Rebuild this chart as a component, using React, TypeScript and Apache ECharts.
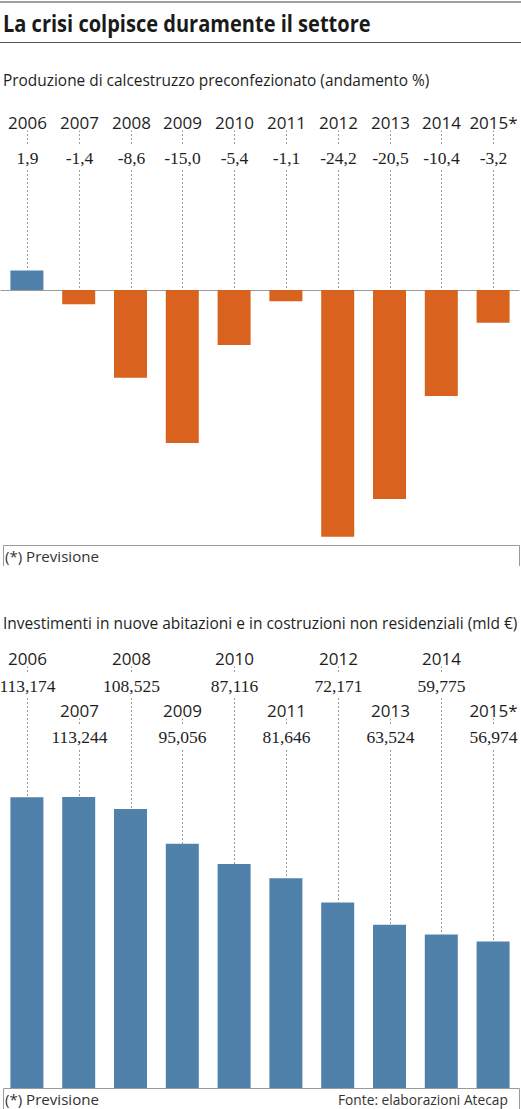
import React, { useEffect, useRef } from "react";
import * as echarts from "echarts";

const YEARS = ["2006", "2007", "2008", "2009", "2010", "2011", "2012", "2013", "2014", "2015*"];
const PRODUCTION = [1.9, -1.4, -8.6, -15.0, -5.4, -1.1, -24.2, -20.5, -10.4, -3.2];
const INVESTMENTS = [113.174, 113.244, 108.525, 95.056, 87.116, 81.646, 72.171, 63.524, 59.775, 56.974];

const TITLE = "La crisi colpisce duramente il settore";
const SUB1 = "Produzione di calcestruzzo preconfezionato (andamento %)";
const SUB2 = "Investimenti in nuove abitazioni e in costruzioni non residenziali (mld €)";
const NOTE = "(*) Previsione";
const SOURCE = "Fonte: elaborazioni Atecap";

const BLUE = "#5081ab";
const ORANGE = "#d9621f";
const GREY = "#9a9a9a";
const TEXT = "#1e1e1e";
const SANS = "'Open Sans', 'Noto Sans', sans-serif";
const SERIF = "'Liberation Serif', 'DejaVu Serif', serif";

const fmt = (v: number, d: number) => v.toFixed(d).replace(".", ",");

function fitScale(text: string, font: string, target: number): number {
  const c = document.createElement("canvas");
  const ctx = c.getContext("2d");
  if (!ctx) return 1;
  ctx.font = font;
  const w = ctx.measureText(text).width;
  return w > 0 ? target / w : 1;
}

export default function App() {
  const ref = useRef<HTMLDivElement>(null);

  useEffect(() => {
    if (!ref.current) return;
    const chart = echarts.init(ref.current, undefined, { renderer: "svg" });

    const titleScale = fitScale(TITLE, `bold 24px 'Open Sans'`, 368);
    const sub1Scale = fitScale(SUB1, `17px 'Open Sans'`, 427);
    const sub2Scale = fitScale(SUB2, `17px 'Open Sans'`, 515);
    const noteScale = fitScale(NOTE, `14px 'Open Sans'`, 94);
    const srcScale = fitScale(SOURCE, `14px 'Open Sans'`, 170);

    const dashLine = (x: number, y1: number, y2: number) => ({
      type: "line",
      shape: { x1: x, y1, x2: x, y2 },
      style: { stroke: GREY, lineWidth: 1, lineDash: [2, 2] },
    });

    const yearText = (x: number, y: number, t: string) => ({
      type: "text",
      x,
      y,
      style: {
        text: t,
        fill: TEXT,
        fontSize: 17,
        fontFamily: SANS,
        align: "center",
        verticalAlign: "middle",
        backgroundColor: "#fff",
        padding: [0, 2],
      },
    });

    const valText = (x: number, y: number, t: string) => ({
      type: "text",
      x,
      y,
      style: {
        text: t,
        fill: TEXT,
        fontSize: 17.5,
        fontFamily: SERIF,
        align: "center",
        verticalAlign: "middle",
        backgroundColor: "#fff",
        padding: [3, 2],
      },
    });

    const option: any = {
      animation: false,
      backgroundColor: "#fff",
      grid: [
        { left: 1, width: 518, top: 269.6, height: 275.4 },
        { left: 1, width: 518, top: 779.6, height: 308.4 },
      ],
      xAxis: [
        {
          type: "category",
          gridIndex: 0,
          data: YEARS,
          axisLine: { show: true, onZero: true, lineStyle: { color: GREY, width: 1 } },
          axisTick: { show: false },
          axisLabel: { show: false },
          splitLine: { show: false },
        },
        {
          type: "category",
          gridIndex: 1,
          data: YEARS,
          axisLine: { show: false },
          axisTick: { show: false },
          axisLabel: { show: false },
          splitLine: { show: false },
        },
      ],
      yAxis: [
        { type: "value", gridIndex: 0, min: -25, max: 2, show: false },
        { type: "value", gridIndex: 1, min: 0, max: 120, show: false },
      ],
      series: [
        {
          type: "custom",
          xAxisIndex: 0,
          yAxisIndex: 0,
          z: 1,
          encode: { x: 0, y: 1 },
          data: PRODUCTION.map((v, i) => [i, v]),
          renderItem: (params: any, api: any) => {
            const i = api.value(0);
            const v = api.value(1);
            const x = Math.round(api.coord([i, 0])[0]) + 0.5;
            const yEnd = api.coord([i, Math.max(v, 0)])[1];
            return {
              type: "group",
              children: [
                dashLine(x, 130, yEnd),
                yearText(x, 122, YEARS[i]),
                valText(x, 158, fmt(v, 1)),
              ],
            };
          },
        },
        {
          type: "bar",
          xAxisIndex: 0,
          yAxisIndex: 0,
          z: 2,
          barWidth: 33,
          data: PRODUCTION,
          itemStyle: {
            color: (p: any) => (p.value >= 0 ? BLUE : ORANGE),
          },
        },
        {
          type: "custom",
          xAxisIndex: 1,
          yAxisIndex: 1,
          z: 1,
          encode: { x: 0, y: 1 },
          data: INVESTMENTS.map((v, i) => [i, v]),
          renderItem: (params: any, api: any) => {
            const i = api.value(0);
            const v = api.value(1);
            const x = Math.round(api.coord([i, 0])[0]) + 0.5;
            const yEnd = api.coord([i, v])[1];
            const even = i % 2 === 0;
            const yearY = even ? 658 : 710;
            const valY = even ? 686 : 737;
            return {
              type: "group",
              children: [
                dashLine(x, yearY + 8, yEnd),
                yearText(x, yearY, YEARS[i]),
                valText(x, valY, fmt(v, 3)),
              ],
            };
          },
        },
        {
          type: "bar",
          xAxisIndex: 1,
          yAxisIndex: 1,
          z: 2,
          barWidth: 33,
          data: INVESTMENTS,
          itemStyle: { color: BLUE },
        },
      ],
      graphic: [
        {
          type: "line",
          shape: { x1: 0, y1: 2, x2: 521, y2: 2 },
          style: { stroke: "#a0a0a0", lineWidth: 2 },
        },
        {
          type: "text",
          x: 3,
          y: 22,
          scaleX: titleScale,
          style: {
            text: TITLE,
            fill: "#1a1a1a",
            fontSize: 24,
            fontWeight: "bold",
            fontFamily: SANS,
            align: "left",
            verticalAlign: "middle",
          },
        },
        {
          type: "line",
          shape: { x1: 0, y1: 42.5, x2: 521, y2: 42.5 },
          style: { stroke: "#555", lineWidth: 1 },
        },
        {
          type: "text",
          x: 3,
          y: 79.5,
          scaleX: sub1Scale,
          style: {
            text: SUB1,
            fill: TEXT,
            fontSize: 17,
            fontFamily: SANS,
            align: "left",
            verticalAlign: "middle",
          },
        },
        {
          type: "polyline",
          shape: { points: [[3.5, 566], [3.5, 545.5], [519.5, 545.5], [519.5, 566]] },
          style: { stroke: GREY, lineWidth: 1, fill: "none" },
        },
        {
          type: "text",
          x: 5,
          y: 556,
          scaleX: noteScale,
          style: {
            text: NOTE,
            fill: "#333",
            fontSize: 14,
            fontFamily: SANS,
            align: "left",
            verticalAlign: "middle",
          },
        },
        {
          type: "text",
          x: 3,
          y: 623,
          scaleX: sub2Scale,
          style: {
            text: SUB2,
            fill: TEXT,
            fontSize: 17,
            fontFamily: SANS,
            align: "left",
            verticalAlign: "middle",
          },
        },
        {
          type: "polyline",
          shape: { points: [[3.5, 1109], [3.5, 1088.5], [519.5, 1088.5], [519.5, 1109]] },
          style: { stroke: GREY, lineWidth: 1, fill: "none" },
        },
        {
          type: "text",
          x: 5,
          y: 1099.5,
          scaleX: noteScale,
          style: {
            text: NOTE,
            fill: "#333",
            fontSize: 14,
            fontFamily: SANS,
            align: "left",
            verticalAlign: "middle",
          },
        },
        {
          type: "text",
          x: 338,
          y: 1099.5,
          scaleX: srcScale,
          style: {
            text: SOURCE,
            fill: "#333",
            fontSize: 14,
            fontFamily: SANS,
            align: "left",
            verticalAlign: "middle",
          },
        },
      ],
    };

    chart.setOption(option);
    return () => chart.dispose();
  }, []);

  return (
    <div
      ref={ref}
      style={{ position: "absolute", left: 0, top: 0, width: 521, height: 1109, background: "#fff" }}
    />
  );
}
